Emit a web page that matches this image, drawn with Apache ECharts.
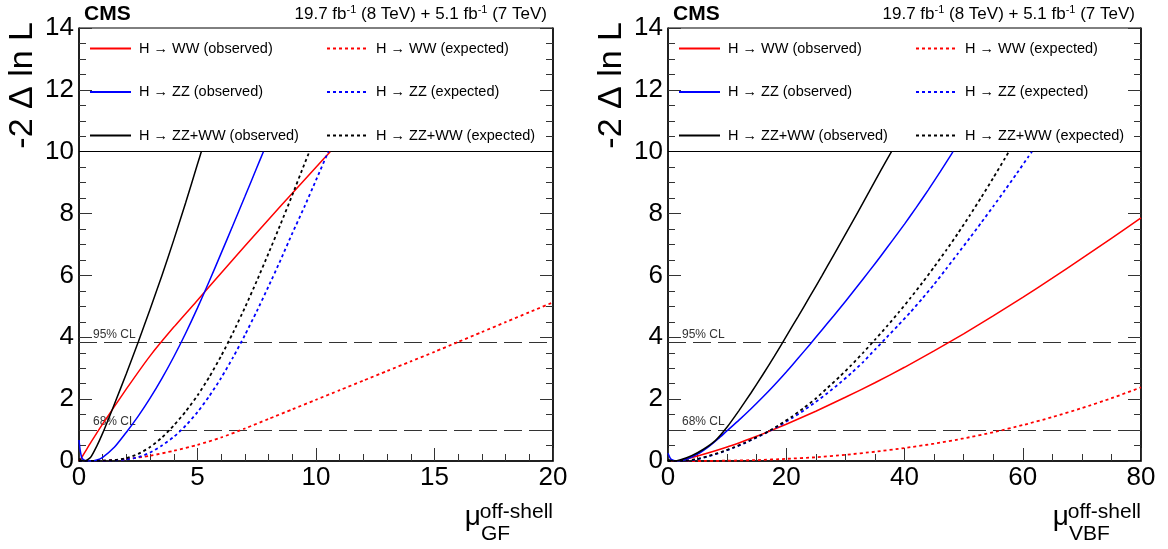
<!DOCTYPE html>
<html>
<head>
<meta charset="utf-8">
<script src="https://cdn.jsdelivr.net/npm/echarts@6/dist/echarts.min.js"></script>
<style>
html,body{margin:0;padding:0;background:#fff;}
#chart{width:1168px;height:549px;}
</style>
</head>
<body>
<div id="chart"></div>
<script>
// ---------- tick labels / axes ----------
const yTicks = [0, 2, 4, 6, 8, 10, 12, 14];
const gfTicks = [0, 5, 10, 15, 20];
const vbfTicks = [0, 20, 40, 60, 80];
const clLevels = [3.84, 1.0];
const clLabels = ['95% CL', '68% CL'];
const legendBoxEdge = [10];

const seriesNames = [
  'H \u2192 WW (observed)', 'H \u2192 WW (expected)',
  'H \u2192 ZZ (observed)', 'H \u2192 ZZ (expected)',
  'H \u2192 ZZ+WW (observed)', 'H \u2192 ZZ+WW (expected)'
];

// ---------- left panel: mu_GF ----------
const gfWWObs = [[0,0],[0.1,0.1],[0.5,0.6],[1,1.2],[2,2.33],[3,3.4],[4,4.33],[5,5.2],[6,6.08],[7,6.95],[8,7.81],[9,8.66],[10,9.5],[10.6,10]];
const gfWWExp = [[0,0],[1,0.01],[2,0.06],[3,0.17],[4,0.33],[5,0.52],[6,0.76],[7,1.05],[8,1.36],[9,1.67],[10,1.98],[11,2.29],[12,2.6],[13,2.91],[14,3.22],[15,3.53],[16,3.85],[17,4.17],[18,4.49],[19,4.81],[20,5.13]];
const gfZZObs = [[0,0.68],[0.05,0.35],[0.12,0.1],[0.25,0.02],[0.5,0],[0.75,0.03],[1,0.12],[1.5,0.45],[2,0.93],[2.5,1.45],[3,2.03],[3.5,2.67],[4,3.37],[4.5,4.13],[5,4.95],[5.5,5.82],[6,6.72],[6.5,7.63],[7,8.55],[7.5,9.48],[7.78,10]];
const gfZZExp = [[0,0],[1,0.005],[2,0.05],[2.5,0.12],[3,0.27],[3.5,0.5],[4,0.78],[4.5,1.14],[5,1.58],[5.5,2.1],[6,2.69],[6.5,3.35],[7,4.07],[7.5,4.84],[8,5.65],[8.5,6.49],[9,7.36],[9.5,8.2],[10,9.08],[10.52,10]];
const gfCombObs = [[0,0.08],[0.1,0.03],[0.25,0],[0.5,0.13],[0.75,0.48],[1,0.9],[1.25,1.37],[1.5,1.85],[2,2.83],[2.5,3.85],[3,4.91],[3.5,6.0],[4,7.15],[4.5,8.35],[5,9.6],[5.16,10]];
const gfCombExp = [[0,0],[1,0.01],[1.5,0.03],[2,0.09],[2.5,0.23],[3,0.45],[3.5,0.76],[4,1.15],[4.5,1.6],[5,2.12],[5.5,2.72],[6,3.4],[6.5,4.15],[7,4.96],[7.5,5.82],[8,6.72],[8.5,7.65],[9,8.6],[9.5,9.58],[9.72,10]];

// ---------- right panel: mu_VBF ----------
const vbfWWObs = [[0,0],[2,0.02],[5,0.16],[10,0.45],[15,0.8],[17.5,0.99],[20,1.19],[25,1.61],[30,2.06],[35,2.53],[40,3.03],[45,3.56],[50,4.11],[55,4.69],[60,5.29],[65,5.91],[70,6.55],[75,7.2],[80,7.86]];
const vbfWWExp = [[0,0],[5,0],[10,0.01],[15,0.03],[20,0.07],[25,0.12],[30,0.2],[35,0.3],[40,0.42],[45,0.56],[50,0.73],[55,0.93],[60,1.16],[65,1.42],[70,1.71],[75,2.03],[80,2.38]];
const vbfZZObs = [[0,0.25],[0.5,0.06],[1.5,0],[3,0.05],[5,0.22],[7,0.48],[8.5,0.72],[10,0.98],[12,1.32],[14,1.68],[16,2.06],[18,2.46],[20,2.88],[22,3.32],[24,3.77],[26,4.23],[28,4.69],[30,5.16],[32,5.64],[34,6.13],[36,6.63],[38,7.14],[40,7.66],[42,8.2],[44,8.76],[46,9.34],[48,9.94],[48.2,10]];
const vbfZZExp = [[0,0],[3,0.01],[5,0.06],[7,0.16],[9,0.28],[11,0.42],[13,0.58],[15,0.76],[17,0.95],[19,1.16],[21,1.39],[23,1.64],[25,1.91],[27,2.2],[29,2.51],[31,2.84],[33,3.2],[35,3.6],[37,4.0],[39,4.4],[41,4.81],[43,5.25],[45,5.71],[47,6.2],[49,6.7],[51,7.2],[53,7.71],[55,8.23],[57,8.76],[59,9.3],[61,9.85],[61.55,10]];
const vbfCombObs = [[0,0.05],[1,0],[2,0.03],[4,0.17],[6,0.38],[8,0.66],[10,1.1],[12,1.63],[14,2.19],[16,2.78],[18,3.39],[20,4.03],[22,4.67],[24,5.32],[26,5.98],[28,6.65],[30,7.33],[32,8.01],[34,8.7],[36,9.4],[37.8,10]];
const vbfCombExp = [[0,0],[3,0.01],[5,0.07],[7,0.17],[9,0.29],[11,0.43],[13,0.59],[15,0.77],[17,0.96],[19,1.19],[21,1.44],[23,1.72],[25,2.02],[27,2.37],[29,2.72],[31,3.1],[33,3.5],[35,3.92],[37,4.35],[39,4.8],[41,5.27],[43,5.76],[45,6.27],[47,6.8],[49,7.35],[51,7.93],[53,8.53],[55,9.15],[57,9.79],[57.65,10]];

// ---------- styling ----------
const FONT = "'Liberation Sans', Arial, Helvetica, sans-serif";
const RED = '#ff0000', BLUE = '#0000ff', BLACK = '#000000';
const DOT = [3, 3];

const panels = [
  { grid: { left: 79, top: 28, width: 474, height: 433 }, ticks: gfTicks, minorSplit: 5,
    data: [gfWWObs, gfWWExp, gfZZObs, gfZZExp, gfCombObs, gfCombExp], sub: 'GF' },
  { grid: { left: 668, top: 28, width: 473, height: 433 }, ticks: vbfTicks, minorSplit: 4,
    data: [vbfWWObs, vbfWWExp, vbfZZObs, vbfZZExp, vbfCombObs, vbfCombExp], sub: 'VBF' }
];
const colors = [RED, RED, BLUE, BLUE, BLACK, BLACK];
const dashed = [false, true, false, true, false, true];

const grids = [], xAxes = [], yAxes = [], series = [], legends = [], graphics = [];

panels.forEach((p, pi) => {
  grids.push(Object.assign({ show: true, borderColor: '#000', borderWidth: 1, backgroundColor: '#fff' }, p.grid));
  const t = p.ticks;
  xAxes.push({
    gridIndex: pi, type: 'value', min: t[0], max: t[t.length - 1], interval: t[1] - t[0],
    axisLine: { show: true, onZero: false, lineStyle: { color: '#000', width: 1.5 } },
    axisTick: { show: true, inside: true, length: 13, lineStyle: { color: '#333', width: 1 } },
    minorTick: { show: true, splitNumber: p.minorSplit, length: 7, lineStyle: { color: '#333', width: 1 } },
    splitLine: { show: false },
    axisLabel: { fontSize: 26, color: '#000', margin: 4, fontFamily: FONT }
  });
  const yBase = {
    gridIndex: pi, type: 'value', min: yTicks[0], max: yTicks[yTicks.length - 1], interval: yTicks[1] - yTicks[0],
    axisLine: { show: true, onZero: false, lineStyle: { color: '#000', width: 1.5 } },
    axisTick: { show: true, inside: true, length: 13, lineStyle: { color: '#333', width: 1 } },
    minorTick: { show: true, splitNumber: 4, length: 7, lineStyle: { color: '#333', width: 1 } },
    splitLine: { show: false }
  };
  yAxes.push(Object.assign({}, yBase, { position: 'left',
    axisLabel: { fontSize: 26, color: '#000', margin: 5, fontFamily: FONT } }));
  yAxes.push(Object.assign({}, yBase, { position: 'right', axisLabel: { show: false } }));

  p.data.forEach((d, si) => {
    const s = {
      type: 'line', name: seriesNames[si], xAxisIndex: pi, yAxisIndex: pi * 2,
      data: d, showSymbol: false, symbol: 'none', smooth: 0.2,
      lineStyle: { color: colors[si], width: dashed[si] ? 1.8 : 1.5, type: dashed[si] ? DOT : 'solid' },
      itemStyle: { color: colors[si] },
      z: 5, animation: false
    };
    if (si === 0) {
      const mlData = clLevels.map((v, k) => ({
        yAxis: v,
        lineStyle: { type: [18, 7], color: '#333', width: 1.2 },
        label: { show: true, position: 'insideStartTop', formatter: clLabels[k], fontSize: 12,
                 color: '#333', fontFamily: FONT, distance: [14, 2] }
      }));
      legendBoxEdge.forEach(v => mlData.push({
        yAxis: v, lineStyle: { type: 'solid', color: '#000', width: 1 }, label: { show: false }
      }));
      s.markLine = { silent: true, symbol: ['none', 'none'], animation: false, data: mlData };
    }
    series.push(s);
  });

  const L = p.grid.left;
  const colLeft = [L + 10, L + 247];
  [[0, 2, 4], [1, 3, 5]].forEach((idx, c) => {
    legends.push({
      left: colLeft[c], top: 41, padding: 0, orient: 'vertical', itemWidth: 41, itemHeight: 14, itemGap: 28.5,
      selectedMode: false, data: idx.map(i => seriesNames[i]),
      itemStyle: { opacity: 0 },
      textStyle: { fontSize: 14.5, lineHeight: 14, color: '#000', fontFamily: FONT, padding: [0, 0, 0, 3] }
    });
  });

  const R = L + p.grid.width;
  graphics.push(
    { type: 'text', x: L + 5, y: 14, style: { text: 'CMS', font: "bold 21px " + FONT, fill: '#000', align: 'left', verticalAlign: 'middle' } },
    { type: 'text', x: R - 6, y: 14, style: {
        text: '{n|19.7 fb}{s|-1}{n| (8 TeV) + 5.1 fb}{s|-1}{n| (7 TeV)}',
        align: 'right', verticalAlign: 'middle', fill: '#000',
        rich: { n: { fontSize: 17, fontFamily: FONT, lineHeight: 20 }, s: { fontSize: 11, fontFamily: FONT, verticalAlign: 'top', lineHeight: 12 } } } },
    { type: 'text', x: L - 56, y: 22, rotation: Math.PI / 2, style: {
        text: '-2 \u0394 ln L', font: "34px " + FONT, fill: '#000', align: 'right', verticalAlign: 'middle' } },
    { type: 'text', x: R - 72, y: 517, style: { text: '\u03bc', font: "28px " + FONT, fill: '#000', align: 'right', verticalAlign: 'middle' } },
    { type: 'text', x: R, y: 512, style: { text: 'off-shell', font: "21px " + FONT, fill: '#000', align: 'right', verticalAlign: 'middle' } },
    { type: 'text', x: R - 72, y: 534, style: { text: p.sub, font: "21px " + FONT, fill: '#000', align: 'left', verticalAlign: 'middle' } }
  );
});

const chart = echarts.init(document.getElementById('chart'), null, { renderer: 'canvas' });
chart.setOption({
  animation: false,
  backgroundColor: '#fff',
  grid: grids, xAxis: xAxes, yAxis: yAxes, series: series, legend: legends,
  graphic: graphics
});
</script>
</body>
</html>
